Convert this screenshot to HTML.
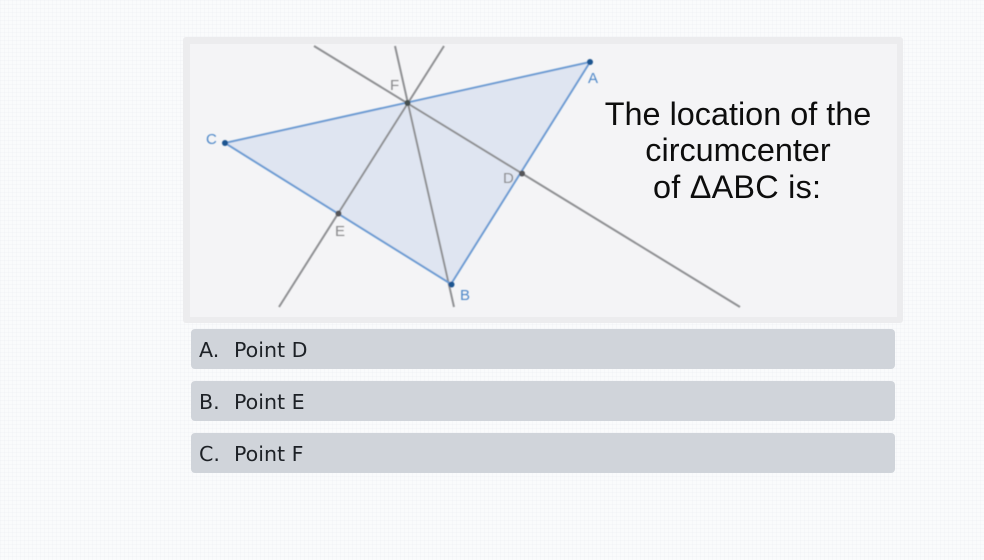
<!DOCTYPE html>
<html>
<head>
<meta charset="utf-8">
<style>
html,body{margin:0;padding:0;width:984px;height:560px;overflow:hidden;background:#fafbfc;}
body{position:relative;background-image:linear-gradient(rgba(235,238,242,.3) 1px,transparent 1px),linear-gradient(90deg,rgba(235,238,242,.3) 1px,transparent 1px);background-size:4px 4px;}
.panel{position:absolute;left:183px;top:37px;width:720px;height:286px;border-radius:3px;background:#ececee;}
.inner{position:absolute;left:190px;top:44px;width:707px;height:273px;background:#f4f4f6;}
svg{position:absolute;left:0;top:0;}
.opt{position:absolute;left:191px;width:704px;height:40px;background:#d0d4da;border-radius:4px;color:#1d2126;font:20.6px/42px "DejaVu Sans",sans-serif;}
.opt span{position:absolute;top:0;}
.opt .l{left:8px;}
.opt .t{left:43px;}
</style>
</head>
<body>
<div class="panel"></div>
<div class="inner"></div>
<svg width="984" height="560" viewBox="0 0 984 560" font-family="Liberation Sans, sans-serif">
<defs>
<filter id="b" x="-5%" y="-5%" width="110%" height="110%"><feGaussianBlur stdDeviation="0.5"/></filter>
<filter id="t" x="-5%" y="-5%" width="110%" height="110%"><feGaussianBlur stdDeviation="0.3"/></filter>
</defs>
<g filter="url(#b)">
<polygon points="225,143 590,62 451,284" fill="#dfe5f1"/>
<g stroke="#8f9093" stroke-width="2" fill="none">
<line x1="314" y1="46" x2="740" y2="307"/>
<line x1="444" y1="46" x2="279" y2="307"/>
<line x1="395" y1="46" x2="454" y2="307"/>
</g>
<polygon points="225,143 590,62 451,284" fill="none" stroke="#6c9bd3" stroke-width="2"/>
<circle cx="590" cy="62" r="3" fill="#1f5490"/>
<circle cx="451.500" cy="284.500" r="3" fill="#1f5490"/>
<circle cx="225" cy="143" r="3" fill="#1f5490"/>
<circle cx="407.500" cy="103" r="3" fill="#44504f"/>
<circle cx="522" cy="173.500" r="3" fill="#555558"/>
<circle cx="338.500" cy="213.500" r="3" fill="#555558"/>
<g font-size="15">
<text x="588" y="83" fill="#4d87c8">A</text>
<text x="460" y="300" fill="#4d87c8">B</text>
<text x="206" y="144" fill="#4d87c8">C</text>
<text x="503" y="183" fill="#88888a">D</text>
<text x="335" y="236" fill="#88888a">E</text>
<text x="390" y="90" fill="#88888a">F</text>
</g>
</g>
<g font-size="32.4" fill="#111" text-anchor="middle" filter="url(#t)">
<text x="738" y="125">The location of the</text>
<text x="738" y="161">circumcenter</text>
<text x="737" y="198" textLength="168" lengthAdjust="spacing">of ΔABC is:</text>
</g>
</svg>
<div class="opt" style="top:329px"><span class="l">A.</span><span class="t">Point D</span></div>
<div class="opt" style="top:381px"><span class="l">B.</span><span class="t">Point E</span></div>
<div class="opt" style="top:433px"><span class="l">C.</span><span class="t">Point F</span></div>
</body>
</html>
